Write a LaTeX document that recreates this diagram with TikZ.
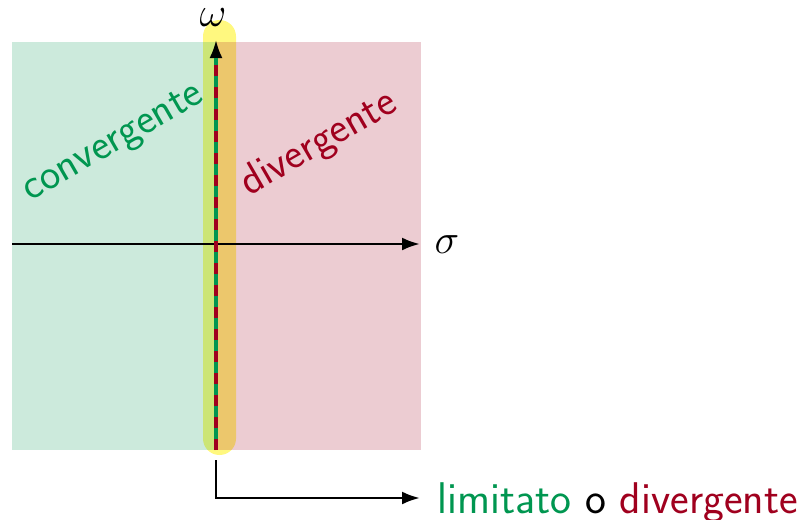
\documentclass[tikz,border=0pt]{standalone}
\usetikzlibrary{arrows.meta}
\definecolor{mygreen}{RGB}{0,150,80}
\definecolor{myred}{RGB}{160,0,30}
\tikzset{
  axis/.style={line width=1.35pt,-{Latex[length=9pt,width=6.5pt]}},
  lbl/.style={font=\sffamily\fontsize{22.2}{27}\selectfont,inner sep=0pt},
  rlbl/.style={font=\sffamily\fontsize{21.6}{26}\selectfont,inner sep=0pt,anchor=base,rotate=30},
}
\begin{document}
\begin{tikzpicture}[x=0.5pt,y=-0.5pt]
\useasboundingbox (0,0) rectangle (805,520);
\fill[yellow,opacity=0.5,rounded corners=8.2pt] (203,20) rectangle (236,455);
\fill[mygreen,opacity=0.2] (12,42) rectangle (216,450);
\fill[myred,opacity=0.2] (216,42) rectangle (421,450);
\coordinate (hl) at (12,244);
\coordinate (hr) at (420,244);
\coordinate (vb) at (216,450);
\coordinate (vt) at (216,40);
\coordinate (vd) at (216,58);
\coordinate (bs) at (216,460);
\coordinate (bc) at (216,498);
\coordinate (be) at (420,498);
\draw[axis] (hl) -- (hr);
\draw[axis] (vb) -- (vt);
\draw[mygreen,line width=1.7pt] (vb) -- (vd);
\draw[myred,line width=1.7pt,dash pattern=on 5.5pt off 5.5pt] (vb) -- (vd);
\draw[axis] (bs) -- (bc) -- (be);
\node[rlbl,text=mygreen] (conv) at (118,151) {convergente};
\node[rlbl,text=myred] (div) at (324,153) {divergente};
\node[lbl,anchor=center] (sigma) at (447,245) {$\sigma$};
\node[lbl,anchor=center] (omega) at (213,18) {$\omega$};
\node[lbl,anchor=base west] (res) at (437,513) {\textcolor{mygreen}{limitato} o \textcolor{myred}{divergente}};
\end{tikzpicture}
\end{document}
